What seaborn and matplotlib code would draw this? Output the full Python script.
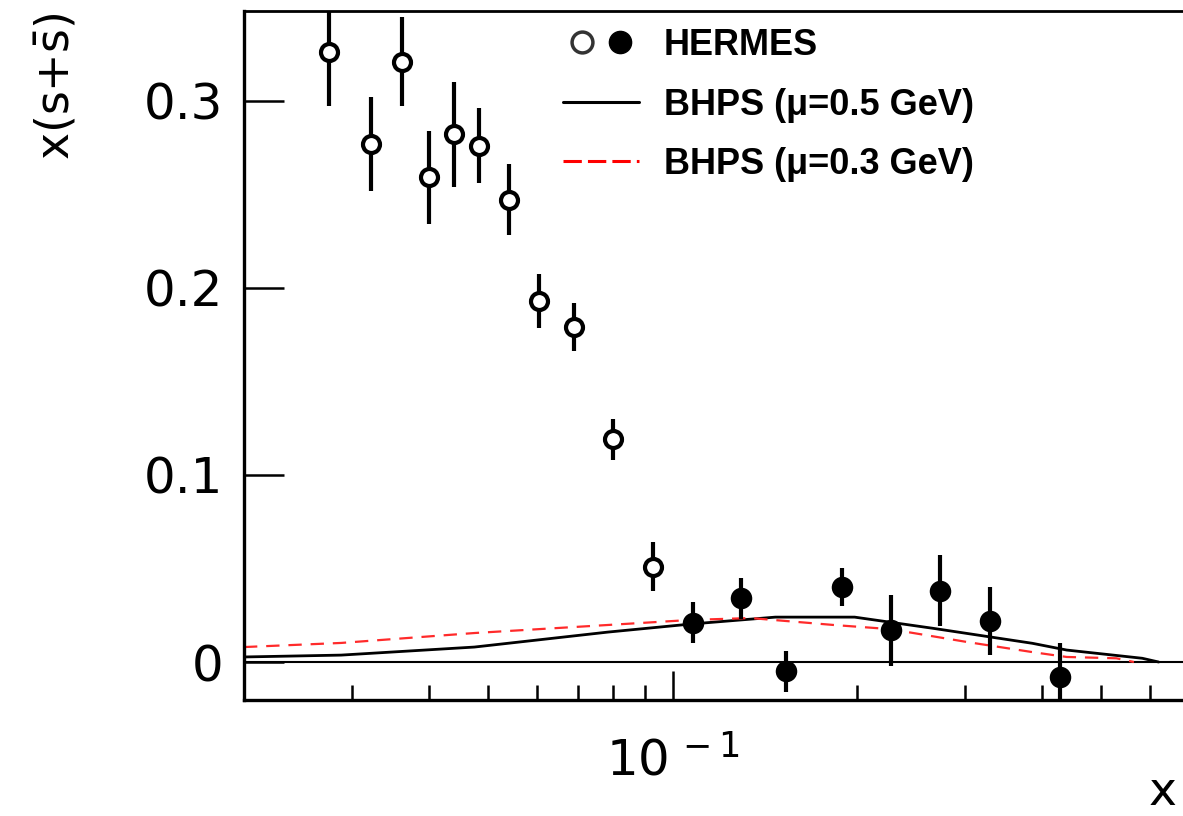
import numpy as np
import pandas as pd
import matplotlib
matplotlib.use("Agg")
import matplotlib.pyplot as plt
import seaborn as sns
from matplotlib.lines import Line2D
from matplotlib.legend_handler import HandlerTuple
from matplotlib.ticker import NullFormatter, LogLocator, NullLocator, FixedLocator

# ---------------- data ----------------
x_open = [0.0275, 0.0322, 0.0362, 0.0401, 0.0440, 0.0484, 0.0541, 0.0605, 0.0690, 0.0799, 0.0928]
y_open = [0.326, 0.277, 0.321, 0.259, 0.282, 0.276, 0.247, 0.193, 0.179, 0.119, 0.051]
e_open = [0.029, 0.025, 0.024, 0.025, 0.028, 0.020, 0.019, 0.0145, 0.013, 0.011, 0.013]

x_full = [0.108, 0.129, 0.153, 0.189, 0.227, 0.273, 0.329, 0.428]
y_full = [0.021, 0.034, -0.005, 0.040, 0.017, 0.038, 0.022, -0.008]
e_full = [0.011, 0.011, 0.011, 0.010, 0.019, 0.019, 0.018, 0.018]

x_b05 = [0.02, 0.0288, 0.0475, 0.0784, 0.107, 0.147, 0.198, 0.266, 0.386, 0.439, 0.583, 0.62]
y_b05 = [0.0027, 0.0037, 0.0080, 0.0160, 0.0203, 0.024, 0.024, 0.018, 0.010, 0.0064, 0.002, 0.0]

x_b03 = [0.02, 0.0288, 0.0475, 0.0784, 0.107, 0.134, 0.183, 0.226, 0.302, 0.386, 0.439, 0.529, 0.565]
y_b03 = [0.008, 0.0102, 0.0155, 0.0198, 0.0225, 0.0235, 0.0198, 0.0176, 0.0107, 0.0053, 0.0027, 0.002, 0.0]

y_ticks = [0.0, 0.1, 0.2, 0.3]
y_tick_labels = ["0", "0.1", "0.2", "0.3"]
x_major_ticks = [0.1]
x_major_labels = [r"$10^{\,-1}$"]
legend_labels = ["HERMES", "BHPS (\u03bc=0.5 GeV)", "BHPS (\u03bc=0.3 GeV)"]

# ---------------- style ----------------
sns.set_theme(style="ticks")
plt.rcParams["font.family"] = ["DejaVu Sans"]
plt.rcParams["mathtext.fontset"] = "dejavusans"
for key in ["text.color", "axes.labelcolor", "xtick.color", "ytick.color", "axes.edgecolor"]:
    plt.rcParams[key] = "black"

fig = plt.figure(figsize=(11.83, 8.16), dpi=100)
W, H = 1183, 816
ax = fig.add_axes([244 / W, (H - 700) / H, (1191 - 244) / W, (700 - 11) / H])

ax.set_xscale("log")
ax.set_xlim(0.02, 0.7)
ax.set_ylim(-0.0203, 0.348)

# zero line
ax.axhline(0, color="black", lw=1.5, zorder=1)

# curves
df05 = pd.DataFrame({"x": x_b05, "y": y_b05})
df03 = pd.DataFrame({"x": x_b03, "y": y_b03})
sns.lineplot(data=df05, x="x", y="y", ax=ax, color="black", lw=2.0, zorder=2)
sns.lineplot(data=df03, x="x", y="y", ax=ax, color="#ff2a2a", lw=1.6,
             linestyle=(0, (6, 4)), zorder=2)

# error bars
ax.errorbar(x_open, y_open, yerr=e_open, fmt="none", ecolor="black", elinewidth=3, capsize=0, zorder=3)
ax.errorbar(x_full, y_full, yerr=e_full, fmt="none", ecolor="black", elinewidth=3, capsize=0, zorder=3)

# markers
sns.scatterplot(x=x_open, y=y_open, ax=ax, marker="o", s=150, facecolor="white",
                edgecolor="black", linewidth=3, zorder=4)
sns.scatterplot(x=x_full, y=y_full, ax=ax, marker="o", s=240, color="black",
                edgecolor="black", linewidth=0, zorder=4)

# axes styling
ax.spines["left"].set_linewidth(2.4)
ax.spines["bottom"].set_linewidth(2.4)
ax.spines["top"].set_linewidth(2.0)
ax.spines["right"].set_linewidth(2.0)

ax.set_yticks(y_ticks)
ax.set_yticklabels(y_tick_labels)
ax.yaxis.set_minor_locator(NullLocator())
ax.tick_params(axis="y", which="major", direction="in", length=29, width=1.8,
               labelsize=36, pad=15, left=True, right=False, colors="black")

ax.xaxis.set_major_locator(FixedLocator(x_major_ticks))
ax.set_xticklabels(x_major_labels)
ax.xaxis.set_minor_locator(LogLocator(base=10, subs=np.arange(2, 10), numticks=20))
ax.xaxis.set_minor_formatter(NullFormatter())
ax.tick_params(axis="x", which="major", direction="in", length=21, width=1.8,
               labelsize=36, pad=26, top=False, bottom=True, colors="black")
ax.tick_params(axis="x", which="minor", direction="in", length=11, width=1.8,
               top=False, bottom=True, colors="black")

ax.set_ylabel(r"x(s+$\bar{\mathregular{s}}$)", fontsize=33, color="black")
ax.yaxis.set_label_coords((80 - 244) / 947, (700 - 86) / 689)
ax.set_xlabel("x", fontsize=34, color="black")
ax.xaxis.label.set_verticalalignment("bottom")
ax.xaxis.set_label_coords((1163 - 244) / 947, (700 - 815) / 689)

# legend
h_open = Line2D([], [], ls="none", marker="o", markersize=15, markerfacecolor="white",
                markeredgecolor="#333333", markeredgewidth=2.5)
h_full = Line2D([], [], ls="none", marker="o", markersize=16, markerfacecolor="black",
                markeredgecolor="black")
h_b05 = Line2D([], [], color="black", lw=2.2)
h_b03 = Line2D([], [], color="red", lw=2.2, linestyle=(0, (6, 2)))
leg = ax.legend([(h_open, h_full), h_b05, h_b03], legend_labels,
                handler_map={tuple: HandlerTuple(ndivide=None, pad=0.05)},
                loc="upper left", bbox_to_anchor=((563 - 244) / 947, (700 - 28) / 689),
                frameon=False, borderpad=0, borderaxespad=0,
                handlelength=2.1, handletextpad=0.7, labelspacing=0.68,
                prop={"family": "Liberation Sans", "weight": "bold", "size": 26})
for t in leg.get_texts():
    t.set_color("black")

fig.savefig("out.png", dpi=100)
